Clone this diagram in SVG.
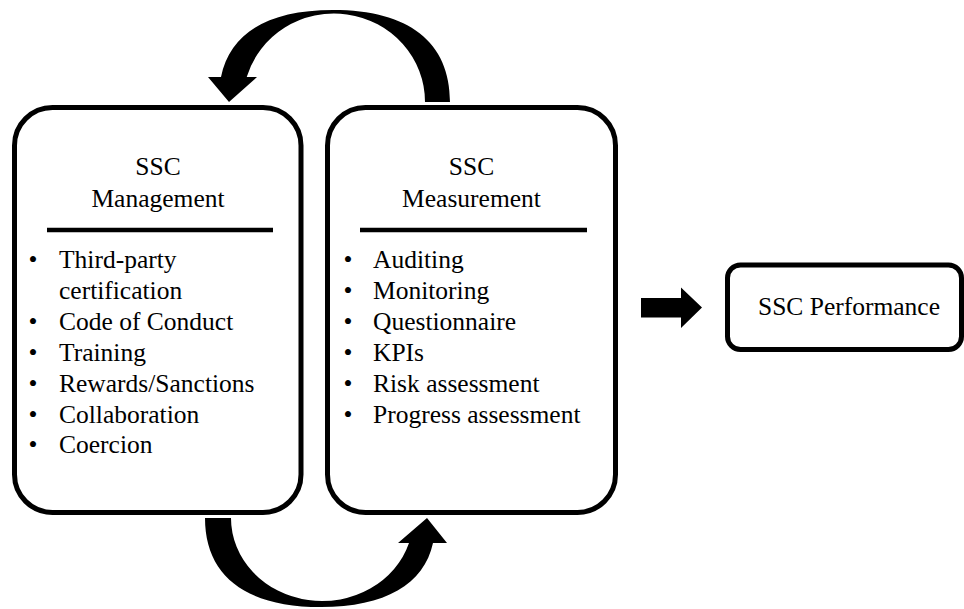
<svg xmlns="http://www.w3.org/2000/svg" width="964" height="609" viewBox="0 0 964 609">
  <style>
    .box { fill: #ffffff; stroke: #000000; stroke-width: 5; }
    .rule { stroke: #000000; stroke-width: 4.5; }
    .arrow { fill: #000000; stroke: none; }
    text { font-family: "Liberation Serif", "Times New Roman", serif; font-size: 25.5px; fill: #000000; }
    .title { text-anchor: middle; }
    .dot { text-anchor: middle; }
  </style>
  <rect width="964" height="609" fill="#ffffff"/>

  <!-- Connectors: feedback loop between the two boxes, and the output arrow -->
  <g id="connectors">
    <!-- Top curved arrow: from Measurement back to Management -->
    <path class="arrow" d="M 450,102 C 450,42 409,10 333,10 C 268.4,10 230,33 221,77 L 208,77 L 229,102 L 257,77 L 246.7,77 A 91 88.5 0 0 1 425,102 Z"/>
    <!-- Bottom curved arrow: from Management to Measurement -->
    <path class="arrow" d="M 205,518 C 205,575.9 245.6,607 321,607 C 385.1,607 424,584.4 433,543 L 447,543 L 427,518 L 398,543 L 409,543 A 91.1 83 0 0 1 231,518 Z"/>
    <!-- Block arrow towards Performance -->
    <path class="arrow" d="M 641,298 L 681,298 L 681,287.5 L 702,307.5 L 681,328 L 681,317.5 L 641,317.5 Z"/>
  </g>

  <g id="management">
    <rect class="box" x="14.5" y="107.5" width="286.5" height="405" rx="38" ry="38"/>
    <text class="title" x="158" y="175">SSC</text>
    <text class="title" x="158" y="206.5">Management</text>
    <line class="rule" x1="47" y1="230" x2="273" y2="230"/>
    <text class="dot" x="33" y="268">•</text><text x="59" y="268">Third-party</text>
    <text x="59" y="299">certification</text>
    <text class="dot" x="33" y="330">•</text><text x="59" y="330">Code of Conduct</text>
    <text class="dot" x="33" y="360.5">•</text><text x="59" y="360.5">Training</text>
    <text class="dot" x="33" y="391.5">•</text><text x="59" y="391.5">Rewards/Sanctions</text>
    <text class="dot" x="33" y="422.5">•</text><text x="59" y="422.5">Collaboration</text>
    <text class="dot" x="33" y="453">•</text><text x="59" y="453">Coercion</text>
  </g>

  <g id="measurement">
    <rect class="box" x="327.5" y="107.5" width="288" height="405" rx="38" ry="38"/>
    <text class="title" x="471.5" y="175">SSC</text>
    <text class="title" x="471.5" y="206.5">Measurement</text>
    <line class="rule" x1="360" y1="230" x2="587" y2="230"/>
    <text class="dot" x="348" y="268">•</text><text x="373" y="268">Auditing</text>
    <text class="dot" x="348" y="299">•</text><text x="373" y="299">Monitoring</text>
    <text class="dot" x="348" y="330">•</text><text x="373" y="330">Questionnaire</text>
    <text class="dot" x="348" y="360.5">•</text><text x="373" y="360.5">KPIs</text>
    <text class="dot" x="348" y="391.5">•</text><text x="373" y="391.5">Risk assessment</text>
    <text class="dot" x="348" y="422.5">•</text><text x="373" y="422.5">Progress assessment</text>
  </g>

  <g id="performance">
    <rect class="box" x="727.5" y="265" width="234" height="84.5" rx="13" ry="13"/>
    <text class="title" x="849" y="315">SSC Performance</text>
  </g>
</svg>
